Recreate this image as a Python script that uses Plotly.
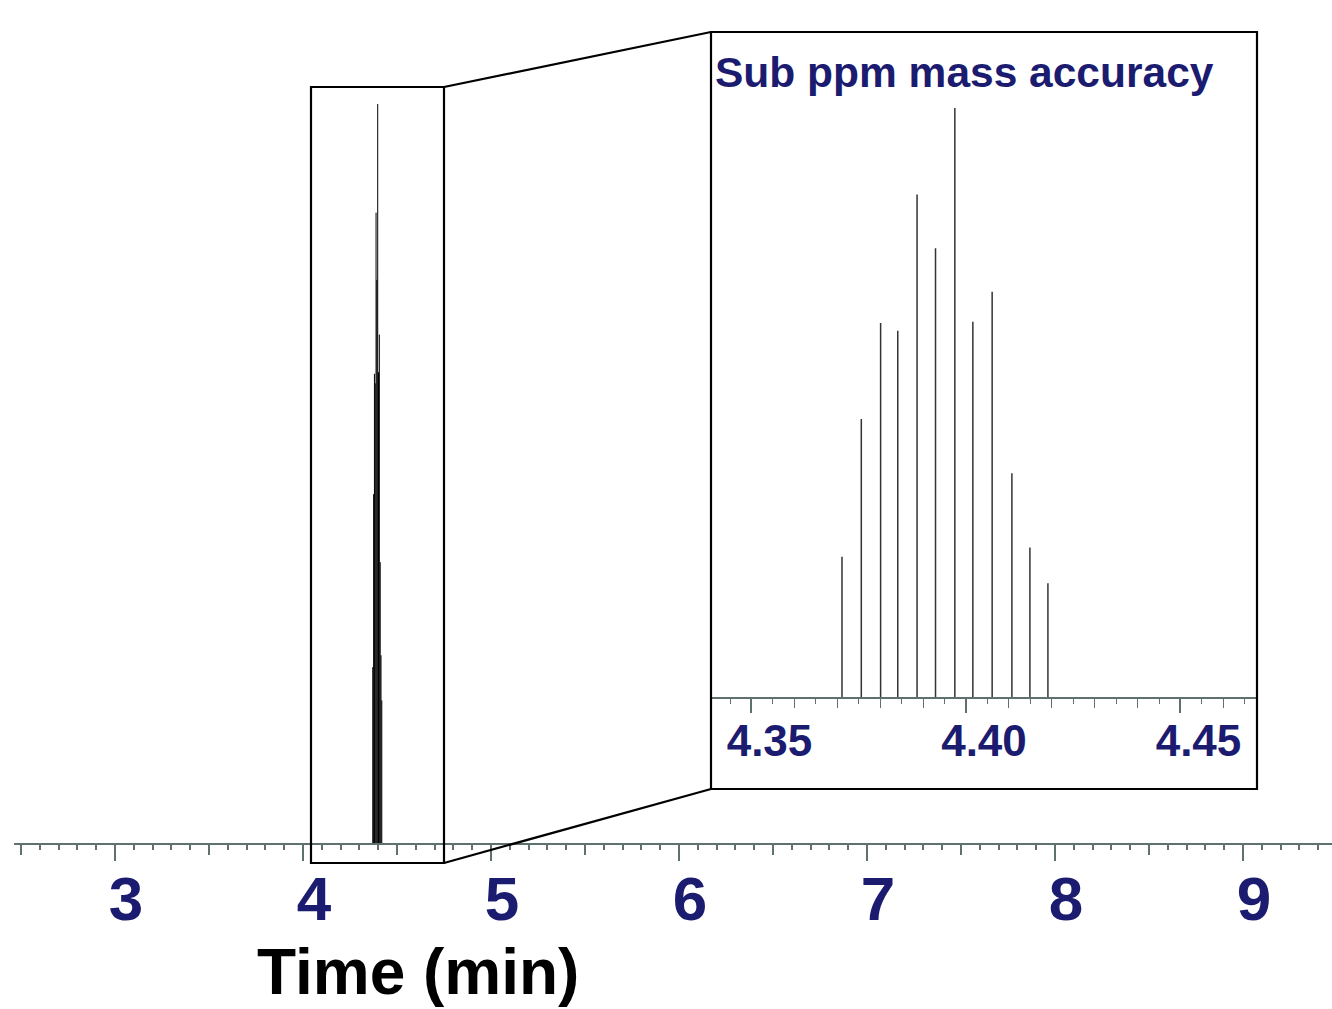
import plotly.graph_objects as go

# scan times (min) and relative intensities (%) of the extracted ion peak
scan_time = [4.3711, 4.3756, 4.3801, 4.3841, 4.3886, 4.3929,
             4.3974, 4.4016, 4.4061, 4.4107, 4.4149, 4.4191]
intensity = [23.8, 47.2, 63.5, 62.2, 85.3, 76.2,
             100.0, 63.7, 68.8, 38.0, 25.4, 19.3]

main_ticks = [3, 4, 5, 6, 7, 8, 9]
inset_ticks = [4.35, 4.40, 4.45]
inset_labels = ['4.35', '4.40', '4.45']

W, H = 1332, 1009
NAVY = '#1b1b70'
AXIS = '#5f716f'


def px(x, y):
    # pixel position -> paper coords (used only for the decorative boxes)
    return x / W, (H - y) / H


# stick spectrum: one vertical line per scan
sx, sy = [], []
for t, v in zip(scan_time, intensity):
    sx += [t, t, None]
    sy += [0, v, None]

fig = go.Figure()
fig.add_trace(go.Scatter(x=sx, y=sy, mode='lines', xaxis='x', yaxis='y',
                         line=dict(color='black', width=1), hoverinfo='skip'))
fig.add_trace(go.Scatter(x=[None], y=[None], mode='lines', xaxis='x3', yaxis='y',
                         hoverinfo='skip'))
fig.add_trace(go.Scatter(x=sx, y=sy, mode='lines', xaxis='x2', yaxis='y2',
                         line=dict(color='#333333', width=1.5), hoverinfo='skip'))
fig.add_trace(go.Scatter(x=[None], y=[None], mode='lines', xaxis='x4', yaxis='y2',
                         hoverinfo='skip'))

big = dict(family='Liberation Sans, Arial', size=62, color=NAVY, weight='bold')
small = dict(family='Liberation Sans, Arial', size=44, color=NAVY, weight='bold')

main_range = [2.4628, 9.4734]
inset_range = [4.3408, 4.4676]

fig.update_layout(
    width=W, height=H,
    margin=dict(l=0, r=0, t=0, b=0),
    paper_bgcolor='white', plot_bgcolor='rgba(0,0,0,0)',
    showlegend=False,
    # main chromatogram axis
    xaxis=dict(domain=[14 / W, 1], range=main_range, anchor='y',
               showgrid=False, zeroline=False,
               showline=True, linecolor=AXIS, linewidth=2,
               ticks='outside', tickvals=main_ticks, ticklen=16, tickwidth=2,
               tickcolor=AXIS, tickfont=big, ticklabelshift=11,
               ticklabelstandoff=-15,
               minor=dict(dtick=0.1, tick0=0, ticks='outside', ticklen=5,
                          tickwidth=1.5, tickcolor=AXIS)),
    xaxis3=dict(domain=[14 / W, 1], range=main_range, anchor='y', overlaying='x',
                showgrid=False, zeroline=False, showline=False,
                ticks='outside', dtick=0.5, tick0=0, ticklen=11, tickwidth=1.5,
                tickcolor=AXIS, showticklabels=False),
    yaxis=dict(domain=[(H - 843) / H, 1], range=[0, 100 * 843 / 739],
               visible=False),
    # zoomed inset axis
    xaxis2=dict(domain=[712 / W, 1256 / W], range=inset_range, anchor='y2',
                showgrid=False, zeroline=False,
                showline=True, linecolor=AXIS, linewidth=1.5,
                ticks='outside', tickvals=inset_ticks, ticktext=inset_labels,
                ticklen=14, tickwidth=1.5, tickcolor=AXIS, tickfont=small,
                ticklabelshift=18, ticklabelstandoff=-10,
                minor=dict(dtick=0.005, tick0=0, ticks='outside', ticklen=5,
                           tickwidth=1, tickcolor=AXIS)),
    xaxis4=dict(domain=[712 / W, 1256 / W], range=inset_range, anchor='y2',
                overlaying='x2', showgrid=False, zeroline=False, showline=False,
                ticks='outside', dtick=0.01, tick0=0, ticklen=10, tickwidth=1.2,
                tickcolor=AXIS, showticklabels=False),
    yaxis2=dict(domain=[(H - 697) / H, (H - 32) / H], range=[0, 100 * 665 / 589],
                visible=False),
)

# zoom window on the chromatogram, inset frame and connector lines
bx0, by0 = px(311, 863)
bx1, by1 = px(444, 87)
ix0, iy0 = px(711, 789)
ix1, iy1 = px(1257, 32)
line = dict(color='black', width=2.2)
fig.add_shape(type='rect', xref='paper', yref='paper',
              x0=bx0, y0=by0, x1=bx1, y1=by1, line=line)
fig.add_shape(type='rect', xref='paper', yref='paper',
              x0=ix0, y0=iy0, x1=ix1, y1=iy1, line=line)
fig.add_shape(type='line', xref='paper', yref='paper',
              x0=bx1, y0=by1, x1=ix0, y1=iy1, line=line)
fig.add_shape(type='line', xref='paper', yref='paper',
              x0=bx1, y0=by0, x1=ix0, y1=iy0, line=line)

tx, ty = px(713, 73)
fig.add_annotation(text='Sub ppm mass accuracy', xref='paper', yref='paper',
                   x=tx, y=ty, xanchor='left', yanchor='middle', showarrow=False,
                   font=dict(family='Liberation Sans, Arial', size=42.5,
                             color=NAVY, weight='bold'))
fig.add_annotation(text='Time (min)', xref='paper', yref='paper',
                   x=418 / W, y=0, xanchor='center', yanchor='bottom',
                   showarrow=False, borderpad=0,
                   font=dict(family='Liberation Sans, Arial', size=64,
                             color='black', weight='bold'))

# the page body has a default 8px margin; drop it so the figure fills the window
fig.write_html('out.html', config={'displayModeBar': False},
               post_script="document.body.style.margin='0';")
